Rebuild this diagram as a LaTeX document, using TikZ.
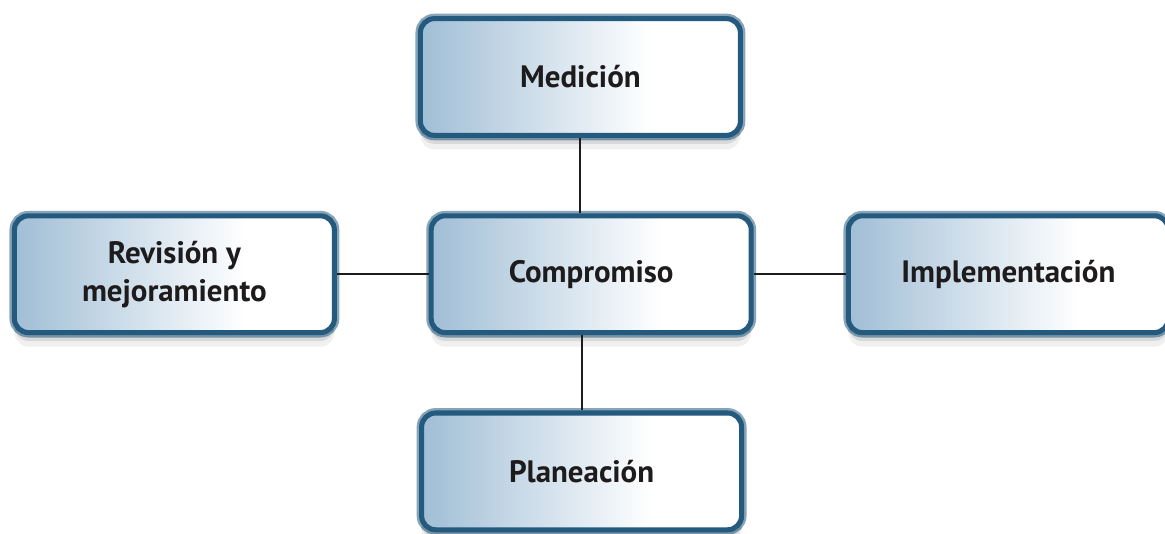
\documentclass[tikz,border=0pt]{standalone}
\usepackage{fontspec}
\setmainfont{PT Sans}
\usepackage{tikz}
\usetikzlibrary{shadows, positioning}
\definecolor{BoxEdge}{RGB}{36,90,126}
\definecolor{BoxBlue}{RGB}{160,190,214}
\definecolor{TextDark}{RGB}{30,27,28}
\pgfdeclarehorizontalshading{boxfade}{100bp}{color(0bp)=(BoxBlue); color(25bp)=(BoxBlue); color(61bp)=(white); color(100bp)=(white)}

\tikzset{
  phase/.style={rounded corners=10pt, minimum width=8.0cm, minimum height=2.92cm,
    align=center, text=TextDark, font=\fontsize{22}{27}\selectfont\bfseries,
    drop shadow={shadow xshift=0pt, shadow yshift=-10pt, opacity=0.12},
    drop shadow={shadow xshift=0pt, shadow yshift=-6pt, opacity=0.2},
    preaction={draw=BoxEdge, line width=7pt, opacity=0.55},
    draw=BoxEdge, line width=3.6pt, shade, shading=boxfade},
  link/.style={line width=1.5pt, draw=TextDark}
}

\begin{document}
\begin{tikzpicture}
    \useasboundingbox (0,0) rectangle (29.125,13.325);

    % centre
    \node[phase] (comp) at (14.78,6.47) {Compromiso};

    % around it
    \node[phase] (med) at (14.51,11.4) {Medición};
    \node[phase] (plan) at (14.54,1.54) {Planeación};
    \node[phase] (rev) at (4.36,6.47) {Revisión y\\mejoramiento};
    \node[phase] (impl) at (25.21,6.47) {Implementación};

    % links
    \draw[link] (med) -- (med |- comp.north);
    \draw[link] (plan) -- (plan |- comp.south);
    \draw[link] (rev) -- (comp);
    \draw[link] (comp) -- (impl);
\end{tikzpicture}
\end{document}
